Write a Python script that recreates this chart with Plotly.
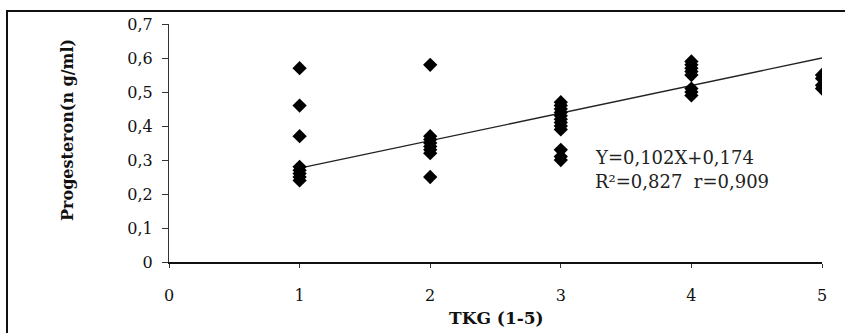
import plotly.graph_objects as go

# ---- data ----
tkg_1 = [0.57, 0.46, 0.37, 0.28, 0.27, 0.26, 0.25, 0.24]
tkg_2 = [0.58, 0.37, 0.36, 0.35, 0.34, 0.33, 0.32, 0.25]
tkg_3 = [0.47, 0.46, 0.45, 0.44, 0.43, 0.42, 0.41, 0.40, 0.39, 0.33, 0.31, 0.30]
tkg_4 = [0.59, 0.58, 0.57, 0.56, 0.55, 0.51, 0.50, 0.49]
tkg_5 = [0.55, 0.54, 0.52, 0.51]
groups = [1, 2, 3, 4, 5]

trend_x = [1, 5]
trend_y = [0.276, 0.600]

x_ticks = [0, 1, 2, 3, 4, 5]
x_ticklabels = ["0", "1", "2", "3", "4", "5"]
y_ticks = [0, 0.1, 0.2, 0.3, 0.4, 0.5, 0.6, 0.7]
y_ticklabels = ["0", "0,1", "0,2", "0,3", "0,4", "0,5", "0,6", "0,7"]

eq_line1 = "Y=0,102X+0,174"
eq_line2 = "R²=0,827  r=0,909"
x_title = "TKG (1-5)"
y_title = "Progesteron(n g/ml)"

FONT = "DejaVu Serif"

xs, ys = [], []
for g, vals in zip(groups, [tkg_1, tkg_2, tkg_3, tkg_4, tkg_5]):
    xs += [g] * len(vals)
    ys += vals

fig = go.Figure()
fig.add_trace(go.Scatter(x=trend_x, y=trend_y, mode="lines",
                         line=dict(color="#222222", width=1.3),
                         showlegend=False, hoverinfo="skip"))
fig.add_trace(go.Scatter(x=xs, y=ys, mode="markers",
                         marker=dict(symbol="diamond", size=11, color="#000000",
                                     line=dict(width=0)),
                         showlegend=False))

W, H = 845, 333
L, R, T, B = 169, 23, 24, 71
pw, ph = W - L - R, H - T - B

def px_x(p):
    return (p - L) / pw

def px_y(p):
    return (H - B - p) / ph

fig.update_layout(
    width=W, height=H,
    margin=dict(l=L, r=R, t=T, b=B, autoexpand=False),
    paper_bgcolor="white", plot_bgcolor="white",
    separators=", ",
    font=dict(family=FONT, color="#111111"),
    xaxis=dict(range=[0, 5], tickvals=x_ticks, ticktext=x_ticklabels,
               showgrid=False, zeroline=False,
               showline=True, linecolor="#111111", linewidth=2,
               ticks="outside", ticklen=4, tickwidth=1, tickcolor="#333333",
               ticklabelstandoff=14,
               tickfont=dict(family=FONT, size=16, color="#111111")),
    yaxis=dict(range=[0, 0.7], tickvals=y_ticks, ticktext=y_ticklabels,
               showgrid=False, zeroline=False,
               showline=True, linecolor="#333333", linewidth=1,
               ticks="outside", ticklen=6, tickwidth=1, tickcolor="#333333",
               ticklabelstandoff=6,
               tickfont=dict(family=FONT, size=16, color="#111111")),
    shapes=[dict(type="rect", xref="paper", yref="paper",
                 x0=px_x(7), x1=px_x(860), y0=px_y(350), y1=px_y(11),
                 line=dict(color="#111111", width=2), fillcolor="rgba(0,0,0,0)",
                 layer="below")],
    annotations=[
        dict(text=eq_line1, xref="paper", yref="paper", x=px_x(593), y=px_y(157),
             xanchor="left", yanchor="middle", showarrow=False,
             font=dict(family=FONT, size=18, color="#222222")),
        dict(text=eq_line2, xref="paper", yref="paper", x=px_x(593), y=px_y(181),
             xanchor="left", yanchor="middle", showarrow=False,
             font=dict(family=FONT, size=18, color="#222222")),
        dict(text="<b>" + x_title + "</b>", xref="paper", yref="paper",
             x=px_x(497), y=px_y(318), xanchor="center", yanchor="middle",
             showarrow=False, font=dict(family=FONT, size=17, color="#111111")),
        dict(text="<b>" + y_title + "</b>", xref="paper", yref="paper",
             x=px_x(67), y=px_y(130), xanchor="center", yanchor="middle",
             textangle=-90, showarrow=False,
             font=dict(family=FONT, size=16, color="#111111")),
    ],
)

fig.write_html("out.html",
               config={"displayModeBar": False},
               post_script="document.body.style.margin='0';document.body.style.overflow='hidden';")
